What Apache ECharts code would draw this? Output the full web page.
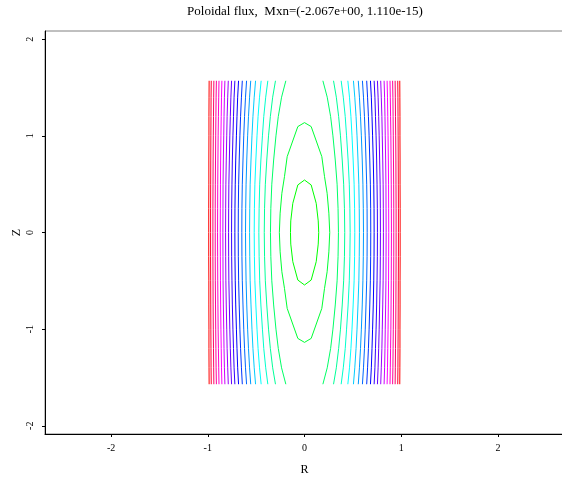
<!DOCTYPE html>
<html>
<head>
<meta charset="utf-8">
<script src="https://cdn.jsdelivr.net/npm/echarts@6/dist/echarts.min.js"></script>
<style>html,body{margin:0;padding:0;background:#fff}#c{width:562px;height:478px}</style>
</head>
<body>
<div id="c"></div>
<script>
const zSamples = [1.57, 1.4, 1.2, 1.0, 0.75, 0.5, 0.25, 0, -0.25, -0.5, -0.75, -1.0, -1.2, -1.4, -1.57];

// open contours, right half (R values at zSamples), from centre outwards
const rightR = [
  [0.190,0.235,0.270,0.294,0.318,0.337,0.347,0.351,0.347,0.337,0.318,0.294,0.270,0.235,0.190],
  [0.300,0.329,0.353,0.372,0.390,0.405,0.413,0.416,0.413,0.405,0.390,0.372,0.353,0.329,0.300],
  [0.379,0.401,0.421,0.435,0.451,0.463,0.469,0.472,0.469,0.463,0.451,0.435,0.421,0.401,0.379],
  [0.448,0.465,0.480,0.491,0.503,0.513,0.518,0.520,0.518,0.513,0.503,0.491,0.480,0.465,0.448],
  [0.506,0.520,0.533,0.543,0.553,0.562,0.566,0.568,0.566,0.562,0.553,0.543,0.533,0.520,0.506],
  [0.556,0.568,0.579,0.588,0.597,0.604,0.608,0.610,0.608,0.604,0.597,0.588,0.579,0.568,0.556],
  [0.599,0.610,0.620,0.628,0.636,0.643,0.647,0.648,0.647,0.643,0.636,0.628,0.620,0.610,0.599],
  [0.643,0.652,0.661,0.668,0.675,0.681,0.684,0.685,0.684,0.681,0.675,0.668,0.661,0.652,0.643],
  [0.682,0.691,0.698,0.704,0.711,0.716,0.719,0.720,0.719,0.716,0.711,0.704,0.698,0.691,0.682],
  [0.720,0.728,0.734,0.740,0.746,0.750,0.753,0.754,0.753,0.750,0.746,0.740,0.734,0.728,0.720],
  [0.754,0.761,0.767,0.772,0.777,0.782,0.784,0.785,0.784,0.782,0.777,0.772,0.767,0.761,0.754],
  [0.788,0.794,0.800,0.804,0.809,0.813,0.815,0.816,0.815,0.813,0.809,0.804,0.800,0.794,0.788],
  [0.823,0.828,0.832,0.835,0.839,0.842,0.843,0.844,0.843,0.842,0.839,0.835,0.832,0.828,0.823],
  [0.854,0.858,0.861,0.864,0.867,0.869,0.870,0.871,0.870,0.869,0.867,0.864,0.861,0.858,0.854],
  [0.884,0.887,0.890,0.893,0.895,0.897,0.898,0.899,0.898,0.897,0.895,0.893,0.890,0.887,0.884],
  [0.911,0.914,0.916,0.918,0.920,0.922,0.923,0.923,0.923,0.922,0.920,0.918,0.916,0.914,0.911],
  [0.937,0.939,0.941,0.943,0.945,0.946,0.947,0.947,0.947,0.946,0.945,0.943,0.941,0.939,0.937],
  [0.964,0.966,0.967,0.968,0.969,0.970,0.971,0.971,0.971,0.970,0.969,0.968,0.967,0.966,0.964],
  [0.985,0.986,0.987,0.987,0.988,0.988,0.989,0.989,0.989,0.988,0.988,0.987,0.987,0.986,0.985]
];

// open contours, left half (R values at zSamples), from centre outwards
const leftR = [
  [-0.193,-0.237,-0.271,-0.295,-0.319,-0.338,-0.348,-0.352,-0.348,-0.338,-0.319,-0.295,-0.271,-0.237,-0.193],
  [-0.300,-0.329,-0.353,-0.372,-0.390,-0.405,-0.413,-0.416,-0.413,-0.405,-0.390,-0.372,-0.353,-0.329,-0.300],
  [-0.379,-0.401,-0.421,-0.435,-0.451,-0.463,-0.469,-0.472,-0.469,-0.463,-0.451,-0.435,-0.421,-0.401,-0.379],
  [-0.448,-0.465,-0.480,-0.491,-0.503,-0.513,-0.518,-0.520,-0.518,-0.513,-0.503,-0.491,-0.480,-0.465,-0.448],
  [-0.506,-0.520,-0.533,-0.543,-0.553,-0.562,-0.566,-0.568,-0.566,-0.562,-0.553,-0.543,-0.533,-0.520,-0.506],
  [-0.556,-0.568,-0.579,-0.588,-0.597,-0.604,-0.608,-0.610,-0.608,-0.604,-0.597,-0.588,-0.579,-0.568,-0.556],
  [-0.599,-0.610,-0.620,-0.628,-0.636,-0.643,-0.647,-0.648,-0.647,-0.643,-0.636,-0.628,-0.620,-0.610,-0.599],
  [-0.643,-0.652,-0.661,-0.668,-0.675,-0.681,-0.684,-0.685,-0.684,-0.681,-0.675,-0.668,-0.661,-0.652,-0.643],
  [-0.682,-0.691,-0.698,-0.704,-0.711,-0.716,-0.719,-0.720,-0.719,-0.716,-0.711,-0.704,-0.698,-0.691,-0.682],
  [-0.720,-0.728,-0.734,-0.740,-0.746,-0.750,-0.753,-0.754,-0.753,-0.750,-0.746,-0.740,-0.734,-0.728,-0.720],
  [-0.754,-0.761,-0.767,-0.772,-0.777,-0.782,-0.784,-0.785,-0.784,-0.782,-0.777,-0.772,-0.767,-0.761,-0.754],
  [-0.788,-0.794,-0.800,-0.804,-0.809,-0.813,-0.815,-0.816,-0.815,-0.813,-0.809,-0.804,-0.800,-0.794,-0.788],
  [-0.823,-0.828,-0.832,-0.835,-0.839,-0.842,-0.843,-0.844,-0.843,-0.842,-0.839,-0.835,-0.832,-0.828,-0.823],
  [-0.854,-0.858,-0.861,-0.864,-0.867,-0.869,-0.870,-0.871,-0.870,-0.869,-0.867,-0.864,-0.861,-0.858,-0.854],
  [-0.884,-0.887,-0.890,-0.893,-0.895,-0.897,-0.898,-0.899,-0.898,-0.897,-0.895,-0.893,-0.890,-0.887,-0.884],
  [-0.911,-0.914,-0.916,-0.918,-0.920,-0.922,-0.923,-0.923,-0.923,-0.922,-0.920,-0.918,-0.916,-0.914,-0.911],
  [-0.937,-0.939,-0.941,-0.943,-0.945,-0.946,-0.947,-0.947,-0.947,-0.946,-0.945,-0.943,-0.941,-0.939,-0.937],
  [-0.964,-0.966,-0.967,-0.968,-0.969,-0.970,-0.971,-0.971,-0.971,-0.970,-0.969,-0.968,-0.967,-0.966,-0.964],
  [-0.986,-0.987,-0.988,-0.988,-0.989,-0.989,-0.990,-0.990,-0.990,-0.989,-0.989,-0.988,-0.988,-0.987,-0.986]
];

// closed contours around the minimum
const innerClosedR = [0, 0.069, 0.121, 0.142, 0.147, 0.142, 0.121, 0.069, 0, -0.069, -0.121, -0.142, -0.145, -0.142, -0.121, -0.069, 0];
const innerClosedZ = [0.543, 0.492, 0.302, 0.12, 0, -0.12, -0.302, -0.492, -0.543, -0.492, -0.302, -0.12, 0, 0.12, 0.302, 0.492, 0.543];
const outerClosedR = [0, 0.069, 0.179, 0.207, 0.234, 0.252, 0.261, 0.252, 0.234, 0.207, 0.179, 0.069, 0, -0.069, -0.179, -0.207, -0.234, -0.252, -0.260, -0.252, -0.234, -0.207, -0.179, -0.069, 0];
const outerClosedZ = [1.137, 1.096, 0.785, 0.578, 0.406, 0.2, 0, -0.2, -0.406, -0.578, -0.785, -1.096, -1.137, -1.096, -0.785, -0.578, -0.406, -0.2, 0, 0.2, 0.406, 0.578, 0.785, 1.096, 1.137];

// contour levels (inner closed, outer closed, then open lines outwards)
const levels = [-2.0,-1.9,-1.8,-1.7,-1.6,-1.5,-1.4,-1.3,-1.2,-1.1,-1.0,-0.9,-0.8,-0.7,-0.6,-0.5,-0.4,-0.3,-0.2,-0.1,0.0];
const levelColors = ['#00FF00','#00FF33','#00FF66','#00FF99','#00FFCC','#00FFFF','#00CCFF','#0099FF','#0066FF','#0033FF','#0000FF',
  '#3300FF','#6600FF','#9900FF','#CC00FF','#FF00FF','#FF00CC','#FF0099','#FF0066','#FF0033','#FF0000'];

const xTicks = [-2, -1, 0, 1, 2];
const yTicks = [-2, -1, 0, 1, 2];
const titleText = 'Poloidal flux,  Mxn=(-2.067e+00, 1.110e-15)';
const xName = 'R';
const yName = 'Z';

const FONT = '"Liberation Serif", "DejaVu Serif", serif';

function lineSeries(rs, zs, color) {
  return {
    type: 'line',
    data: rs.map((r, i) => [r, zs[i]]),
    showSymbol: false,
    symbol: 'none',
    silent: true,
    animation: false,
    clip: false,
    lineStyle: { color: color, width: 1 },
    z: 3
  };
}

const series = [];
series.push(lineSeries(innerClosedR, innerClosedZ, levelColors[0]));
series.push(lineSeries(outerClosedR, outerClosedZ, levelColors[1]));
for (let k = 0; k < rightR.length; k++) {
  series.push(lineSeries(rightR[k], zSamples, levelColors[k + 2]));
  series.push(lineSeries(leftR[k], zSamples, levelColors[k + 2]));
}

const chart = echarts.init(document.getElementById('c'), null, { renderer: 'canvas' });
chart.setOption({
  animation: false,
  backgroundColor: '#ffffff',
  title: {
    text: titleText,
    left: 305,
    top: 5,
    padding: 0,
    textAlign: 'center',
    textStyle: { fontSize: 13, fontWeight: 'normal', fontFamily: FONT, color: '#000' }
  },
  grid: {
    left: 45, top: 31, width: 519, height: 403,
    containLabel: false,
    outerBoundsMode: 'none',
    show: true,
    borderColor: '#808080',
    borderWidth: 1,
    backgroundColor: 'transparent'
  },
  xAxis: {
    type: 'value',
    min: -2.683, max: 2.683,
    splitLine: { show: false },
    axisLine: { show: true, onZero: false, lineStyle: { color: '#000', width: 1 } },
    axisTick: { show: true, customValues: xTicks, length: 3, lineStyle: { color: '#000' } },
    axisLabel: { customValues: xTicks, margin: 9, fontSize: 10, fontFamily: FONT, color: '#000' },
    name: xName,
    nameLocation: 'middle',
    nameGap: 30,
    nameMoveOverlap: false,
    nameTextStyle: { fontSize: 12, fontFamily: FONT, color: '#000' }
  },
  yAxis: {
    type: 'value',
    min: -2.085, max: 2.085,
    splitLine: { show: false },
    axisLine: { show: true, onZero: false, lineStyle: { color: '#000', width: 1 } },
    axisTick: { show: true, customValues: yTicks, length: 3, lineStyle: { color: '#000' } },
    axisLabel: { customValues: yTicks, rotate: 90, margin: 10, fontSize: 10, fontFamily: FONT, color: '#000' },
    name: yName,
    nameLocation: 'middle',
    nameGap: 22,
    nameMoveOverlap: false,
    nameRotate: 90,
    nameTextStyle: { fontSize: 12, fontFamily: FONT, color: '#000' }
  },
  series: series
});
</script>
</body>
</html>
